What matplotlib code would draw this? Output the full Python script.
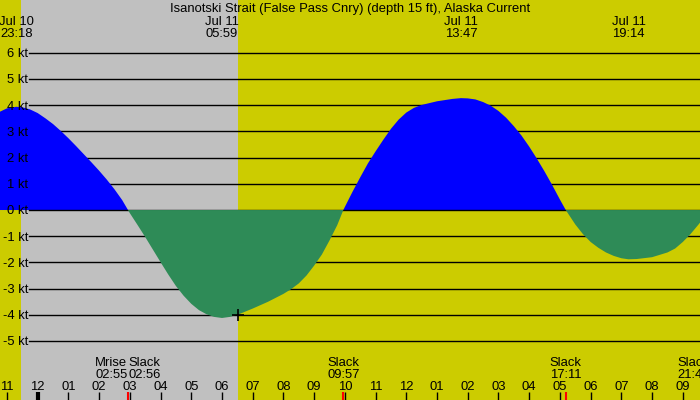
import matplotlib
matplotlib.use('Agg')
import matplotlib.pyplot as plt
import numpy as np
from matplotlib.transforms import blended_transform_factory

plt.rcParams['font.family'] = ['Liberation Sans', 'DejaVu Sans']

title = 'Isanotski Strait (False Pass Cnry) (depth 15 ft), Alaska Current'

# times are hours from Jul 11 00:00, speeds in knots
hours = [-1.25, -1.0, -0.7, -0.5, -0.25, 0.0, 0.25, 0.5, 0.75, 1.0, 1.25, 1.5,
         1.75, 2.0, 2.25, 2.5, 2.75, 2.94, 3.0, 3.25, 3.5, 3.75, 4.0, 4.25,
         4.5, 4.75, 5.0, 5.25, 5.5, 5.75, 6.0, 6.25, 6.5, 6.75, 7.0, 7.5,
         8.0, 8.25, 8.5, 8.75, 9.0, 9.25, 9.5, 9.75, 9.95, 10.0, 10.25, 10.5,
         10.75, 11.0, 11.25, 11.5, 11.75, 12.0, 12.25, 12.5, 12.75, 13.0,
         13.5, 13.78, 14.0, 14.25, 14.5, 14.75, 15.0, 15.25, 15.5, 15.75,
         16.0, 16.25, 16.5, 16.75, 17.0, 17.19, 17.5, 17.75, 18.0, 18.25,
         18.5, 18.75, 19.0, 19.23, 19.5, 20.0, 20.5, 20.75, 21.0, 21.25,
         21.5, 21.75]
speed = [3.74, 3.88, 3.94, 3.92, 3.84, 3.70, 3.50, 3.28, 3.02, 2.74, 2.44, 2.13,
         1.82, 1.50, 1.16, 0.79, 0.38, 0.0, -0.12, -0.57, -1.03, -1.51, -1.99,
         -2.46, -2.90, -3.27, -3.58, -3.82, -3.98, -4.08, -4.12, -4.08, -4.0,
         -3.88, -3.76, -3.50, -3.20, -3.02, -2.80, -2.50, -2.12, -1.70, -1.16,
         -0.58, 0.0, 0.12, 0.70, 1.25, 1.78, 2.24, 2.68, 3.10, 3.45, 3.72,
         3.90, 4.01, 4.08, 4.15, 4.24, 4.27, 4.26, 4.22, 4.12, 3.98, 3.78,
         3.52, 3.20, 2.84, 2.42, 1.96, 1.47, 0.95, 0.40, 0.0, -0.55, -0.92,
         -1.22, -1.44, -1.62, -1.75, -1.84, -1.88, -1.87, -1.80, -1.62, -1.47,
         -1.22, -0.92, -0.57, -0.20]

levels = [-5, -4, -3, -2, -1, 0, 1, 2, 3, 4, 5, 6]

hour_ticks = list(range(-1, 22))
hour_labels = ['11', '12', '01', '02', '03', '04', '05', '06', '07', '08',
               '09', '10', '11', '12', '01', '02', '03', '04', '05', '06',
               '07', '08', '09']

max_times = [-0.70, 5.983, 13.783, 19.233]
max_dates = ['Jul 10', 'Jul 11', 'Jul 11', 'Jul 11']
max_labels = ['23:18', '05:59', '13:47', '19:14']

slack_times = [2.933, 9.95, 17.183, 21.75]
slack_labels = ['02:56', '09:57', '17:11', '21:45']

moonrise_time = 2.917
moonrise_label = '02:55'

sunset = -0.54
sunrise = 6.52
sunrise_speed = -4.0

yellow = '#cccc00'
gray = '#c0c0c0'
fs = 9.4

fig = plt.figure(figsize=(7, 4), dpi=100)
fig.patch.set_facecolor(yellow)
ax = fig.add_axes([0, 0, 1, 1])
ax.set_facecolor(yellow)
ax.axis('off')

x0 = -1.227
x1 = 21.56
ax.set_xlim(x0, x1)
ax.set_ylim(-7.25, 8.015)
px_per_kt = 400 / (8.015 + 7.25)

trans = blended_transform_factory(ax.transData, ax.transAxes)
ktrans = blended_transform_factory(ax.transAxes, ax.transData)

def py(pix):
	# pixel row from top -> axes fraction
	return 1 - pix / 400.0

def put(x, row, s, ha='center'):
	# row = baseline pixel row from the top
	ax.text(x, py(row), s, transform=trans, ha=ha, va='baseline', fontsize=fs, zorder=5)

# night
ax.axvspan(sunset, sunrise, color=gray, zorder=0, lw=0)

# grid lines
for v in levels:
	ax.axhline(v, xmin=29 / 700.0, xmax=1, color='black', lw=1,
	           zorder=2.5 if v == 0 else 1)
	ax.text(28 / 700.0, v - 4.3 / px_per_kt, '%d kt' % v, transform=ktrans,
	        ha='right', va='baseline', fontsize=fs, zorder=5)

t = np.array(hours)
s = np.array(speed)
ax.fill_between(t, s, 0, where=s >= 0, interpolate=True, color='#0000ff', lw=0, zorder=2)
ax.fill_between(t, s, 0, where=s <= 0, interpolate=True, color='#2e8b57', lw=0, zorder=3)

ax.plot([sunrise], [sunrise_speed], marker='+', ms=9, mew=1.2, color='black', zorder=6)

put((x0 + x1) / 2, 12, title)

for tm, d, lab in zip(max_times, max_dates, max_labels):
	put(tm, 25, d)
	put(tm, 37, lab)

# hour ticks
for h, lab in zip(hour_ticks, hour_labels):
	put(h, 389.5, lab)
	ax.plot([h, h], [0, py(392)], transform=trans, color='black',
	        lw=3 if h == 0 else 1, solid_capstyle='butt')

for tm, lab in zip(slack_times, slack_labels):
	ax.plot([tm, tm], [0, py(392)], transform=trans, color='red', lw=1.5, solid_capstyle='butt')
	if tm == slack_times[0]:
		put(tm + 0.03, 366.5, 'Slack', ha='left')
		put(tm + 0.03, 378.5, lab, ha='left')
	else:
		lx = min(tm, x1 - 0.2)
		put(lx, 366.5, 'Slack')
		put(lx, 378.5, lab)

put(moonrise_time, 366.5, 'Mrise', ha='right')
put(moonrise_time, 378.5, moonrise_label, ha='right')

fig.savefig('out.png', dpi=100, facecolor=yellow)
